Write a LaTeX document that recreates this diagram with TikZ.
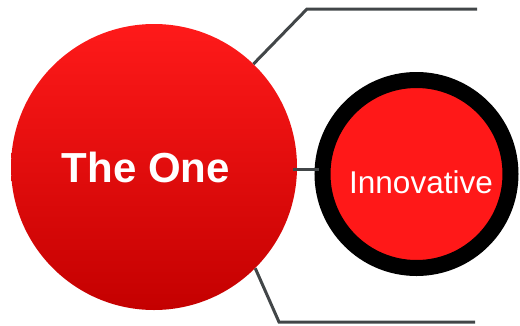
\documentclass[tikz,border=0pt]{standalone}
\usepackage{fontspec}
\setmainfont{Liberation Sans}
\usetikzlibrary{positioning, calc}

\definecolor{redtop}{RGB}{255,26,26}
\definecolor{redbot}{RGB}{196,0,0}
\definecolor{redfill}{RGB}{255,24,24}
\definecolor{linegray}{RGB}{66,70,72}

\begin{document}
\begin{tikzpicture}[
    x=1pt, y=-1pt,
    % Styles
    bigball/.style={ % main circle
        circle,
        minimum size=286pt,
        inner sep=0pt,
        top color=redtop,
        bottom color=redbot,
        text=white,
        font=\bfseries\fontsize{42}{48}\selectfont
    },
    ringball/.style={ % circle with black ring
        circle,
        minimum size=188pt,
        inner sep=0pt,
        draw=black,
        line width=16pt,
        fill=redfill,
        text=white,
        text height=38pt,
        text depth=0pt,
        font=\fontsize{31.5}{36}\selectfont
    },
    link/.style={ % connector lines
        draw=linegray,
        line width=3pt
    }
]

    % Frame
    \useasboundingbox (0,0) rectangle (520,325);

    % Circles
    \node[bigball] (one) at (154,167) {The One\hspace*{16pt}};
    \node[ringball] (innov) at (416.5,174) {\hspace*{9pt}Innovative};

    % Free ends of the connectors
    \coordinate (topbend) at (307,9);
    \coordinate (topend) at (477,9);
    \coordinate (botbend) at (279,322);
    \coordinate (botend) at (475,322);

    % Connectors
    \draw[link] (one.46) -- (topbend) -- (topend);
    \draw[link] (one.-45) -- (botbend) -- (botend);
    \draw[link] ([shift={(-4pt,-2pt)}]one.east) -- ([shift={(4pt,-2pt)}]one.east -| innov.west);

\end{tikzpicture}
\end{document}
